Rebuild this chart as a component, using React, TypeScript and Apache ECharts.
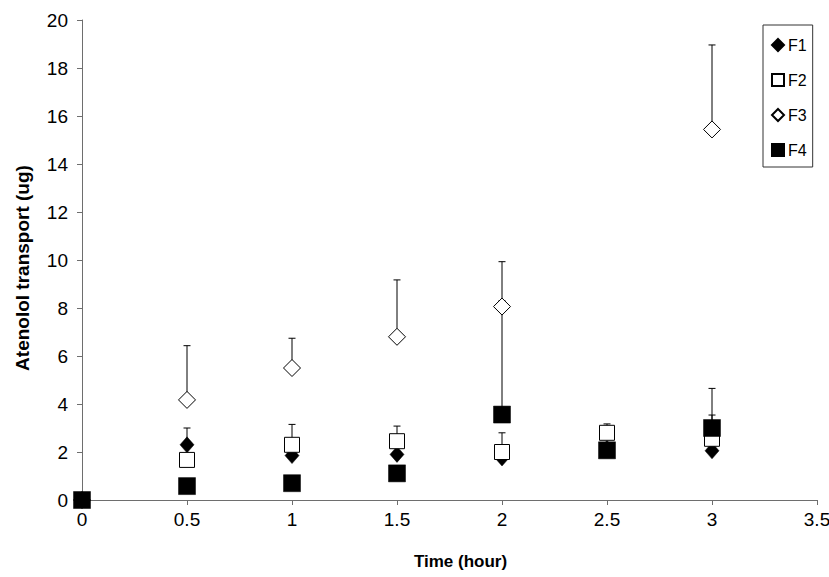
import React, { useEffect, useRef } from "react";
import * as echarts from "echarts";

const times = [0, 0.5, 1, 1.5, 2, 2.5, 3];
const f1 = [0, 2.3, 1.85, 1.9, 1.75, 2.15, 2.05];
const f1Err = [0, 0.7, 0, 0, 0, 0, 0];
const f2 = [0, 1.67, 2.3, 2.45, 2.0, 2.8, 2.55];
const f2Err = [0, 0, 0.85, 0.63, 0.8, 0.37, 2.1];
const f3 = [0, 4.17, 5.5, 6.8, 8.06, null, 15.44];
const f3Err = [0, 2.26, 1.24, 2.37, 1.87, null, 3.52];
const f4 = [0, 0.58, 0.7, 1.11, 3.56, 2.07, 3.0];
const f4Err = [0, 0, 0, 0, 4.74, 0, 0.54];

const xTicks = ["0", "0.5", "1", "1.5", "2", "2.5", "3", "3.5"];

const FONT = "'Liberation Sans', Arial, sans-serif";

function points(vals: (number | null)[]) {
  const out: number[][] = [];
  vals.forEach((v, i) => {
    if (v !== null) out.push([times[i], v]);
  });
  return out;
}

function errPoints(vals: (number | null)[], errs: (number | null)[]) {
  const out: number[][] = [];
  vals.forEach((v, i) => {
    const e = errs[i];
    if (v !== null && e !== null && e > 0) out.push([times[i], v, v + e]);
  });
  return out;
}

function errorSeries(name: string, vals: (number | null)[], errs: (number | null)[]) {
  return {
    type: "custom",
    name: name + "-err",
    data: errPoints(vals, errs),
    silent: true,
    renderItem: (params: any, api: any) => {
      const x = api.value(0);
      const lo = api.coord([x, api.value(1)]);
      const hi = api.coord([x, api.value(2)]);
      const cap = 3.5;
      const st = { stroke: "#000", lineWidth: 1 };
      return {
        type: "group",
        children: [
          { type: "line", shape: { x1: lo[0], y1: lo[1], x2: hi[0], y2: hi[1] }, style: st },
          { type: "line", shape: { x1: hi[0] - cap, y1: hi[1], x2: hi[0] + cap, y2: hi[1] }, style: st },
        ],
      };
    },
  };
}

export default function App() {
  const ref = useRef<HTMLDivElement>(null);
  useEffect(() => {
    if (!ref.current) return;
    const chart = echarts.init(ref.current, null, { renderer: "svg" });
    const axisColor = "#6e6e6e";
    chart.setOption({
      animation: false,
      backgroundColor: "#fff",
      textStyle: { fontFamily: FONT },
      grid: { left: 82, right: 12, top: 20, bottom: 77, containLabel: false, outerBoundsMode: "none" },
      legend: {
        data: ["F1", "F2", "F3", "F4"],
        orient: "vertical",
        left: 763,
        top: 25,
        padding: [12, 6, 9, 8],
        itemWidth: 12,
        itemHeight: 12,
        itemGap: 19,
        borderColor: "#333",
        borderWidth: 1,
        textStyle: { fontFamily: FONT, fontSize: 16, color: "#000", padding: [0, 0, 0, -1] },
      },
      xAxis: {
        type: "value",
        min: 0,
        max: 3.5,
        interval: 0.5,
        name: "Time (hour)",
        nameLocation: "middle",
        nameGap: 53,
        nameTextStyle: { fontFamily: FONT, fontSize: 17, fontWeight: "bold", color: "#000", padding: [0, 0, 0, 22] },
        axisLine: { lineStyle: { color: axisColor, width: 1 } },
        axisTick: { show: true, length: 5, lineStyle: { color: axisColor } },
        splitLine: { show: false },
        axisLabel: {
          fontFamily: FONT,
          fontSize: 19,
          color: "#000",
          margin: 10,
          formatter: (v: number) => xTicks[Math.round(v / 0.5)] ?? String(v),
        },
      },
      yAxis: {
        type: "value",
        min: 0,
        max: 20,
        interval: 2,
        name: "Atenolol transport (ug)",
        nameLocation: "middle",
        nameGap: 50,
        nameTextStyle: { fontFamily: FONT, fontSize: 19, fontWeight: "bold", color: "#000", padding: [0, 16, 0, 0] },
        axisLine: { show: true, lineStyle: { color: axisColor, width: 1 } },
        axisTick: { show: true, length: 5, lineStyle: { color: axisColor } },
        splitLine: { show: false },
        axisLabel: { fontFamily: FONT, fontSize: 19, color: "#000", margin: 14 },
      },
      series: [
        errorSeries("F1", f1, f1Err),
        {
          type: "scatter",
          name: "F1",
          data: points(f1),
          symbol: "diamond",
          symbolSize: [14, 16],
          itemStyle: { color: "#000", borderColor: "#000", borderWidth: 0.5, opacity: 1 },
        },
        errorSeries("F2", f2, f2Err),
        {
          type: "scatter",
          name: "F2",
          data: points(f2),
          symbol: "rect",
          symbolSize: 15,
          itemStyle: { color: "#fff", borderColor: "#000", borderWidth: 1, opacity: 1 },
        },
        errorSeries("F3", f3, f3Err),
        {
          type: "scatter",
          name: "F3",
          data: points(f3),
          symbol: "diamond",
          symbolSize: 17,
          itemStyle: { color: "#fff", borderColor: "#000", borderWidth: 1, opacity: 1 },
        },
        errorSeries("F4", f4, f4Err),
        {
          type: "scatter",
          name: "F4",
          data: points(f4),
          symbol: "rect",
          symbolSize: 17,
          itemStyle: { color: "#000", borderColor: "#000", borderWidth: 0.5, opacity: 1 },
        },
      ],
    });
    return () => chart.dispose();
  }, []);
  return <div ref={ref} style={{ width: 829, height: 577, position: "absolute", left: 0, top: 0 }} />;
}
